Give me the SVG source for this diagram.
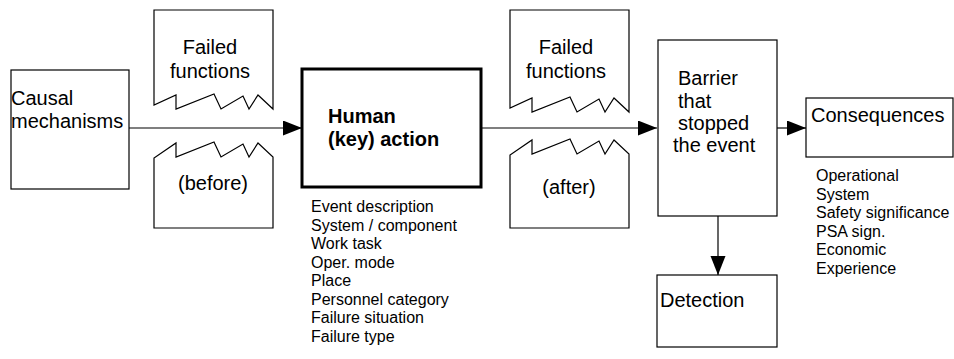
<svg xmlns="http://www.w3.org/2000/svg" width="954" height="359" viewBox="0 0 954 359">
<defs>
<style>
.box{fill:#fff;stroke:#000;stroke-width:1.2}
.thick{fill:#fff;stroke:#000;stroke-width:3}
.t{font-family:"Liberation Sans",Arial,sans-serif;font-size:20px;fill:#000}
.b{font-family:"Liberation Sans",Arial,sans-serif;font-size:20px;font-weight:bold;fill:#000}
.s{font-family:"Liberation Sans",Arial,sans-serif;font-size:16px;fill:#000}
.c{stroke:#000;stroke-width:1.2;fill:none}
</style>
<marker id="ah" markerWidth="20" markerHeight="16" refX="19" refY="7.5" orient="auto" markerUnits="userSpaceOnUse">
<path d="M0,0 L19,7.5 L0,15 Z" fill="#000"/>
</marker>
</defs>
<rect width="954" height="359" fill="#fff"/>
<g id="connectors">
<line class="c" x1="129" y1="128" x2="302" y2="128" marker-end="url(#ah)"/>
<line class="c" x1="481" y1="128" x2="657" y2="128" marker-end="url(#ah)"/>
<line class="c" x1="777" y1="128" x2="806" y2="128" marker-end="url(#ah)"/>
<line class="c" x1="718" y1="216" x2="718" y2="275" marker-end="url(#ah)"/>
</g>
<g id="causal">
<rect class="box" x="11" y="70" width="118" height="119"/>
<text class="t" x="11" y="105">Causal</text>
<text class="t" x="11" y="128">mechanisms</text>
</g>
<g id="failed-before-top">
<path class="box" d="M154,10 L273,10 L273,109 L258,95 L249,109 L243,96 L221,109 L214,94 L176,109 L176,95 L154,105 Z"/>
<text class="t" x="210" y="54" text-anchor="middle">Failed</text>
<text class="t" x="210" y="78" text-anchor="middle">functions</text>
</g>
<g id="failed-before-bottom">
<path class="box" d="M154,228 L154,158 L176,143 L176,157 L214,142 L221,157 L243,144 L249,157 L258,143 L273,157 L273,228 Z"/>
<text class="t" x="213" y="190" text-anchor="middle">(before)</text>
</g>
<g id="human">
<rect class="thick" x="302" y="69" width="179" height="118"/>
<text class="b" x="328" y="123">Human</text>
<text class="b" x="328" y="146">(key) action</text>
</g>
<g id="human-attributes">
<text class="s" x="311" y="212">Event description</text>
<text class="s" x="311" y="230.5">System / component</text>
<text class="s" x="311" y="249">Work task</text>
<text class="s" x="311" y="267.5">Oper. mode</text>
<text class="s" x="311" y="286">Place</text>
<text class="s" x="311" y="304.5">Personnel category</text>
<text class="s" x="311" y="323">Failure situation</text>
<text class="s" x="311" y="341.5">Failure type</text>
</g>
<g id="failed-after-top">
<path class="box" d="M510,10 L629,10 L629,112 L614,98 L605,112 L599,99 L577,112 L570,97 L532,112 L532,98 L510,108 Z"/>
<text class="t" x="566" y="54" text-anchor="middle">Failed</text>
<text class="t" x="566" y="78" text-anchor="middle">functions</text>
</g>
<g id="failed-after-bottom">
<path class="box" d="M510,228 L510,155 L532,140 L532,154 L570,139 L577,154 L599,141 L605,154 L614,140 L629,154 L629,228 Z"/>
<text class="t" x="569" y="194" text-anchor="middle">(after)</text>
</g>
<g id="barrier">
<rect class="box" x="658" y="40" width="119" height="176"/>
<text class="t" x="678" y="85">Barrier</text>
<text class="t" x="678" y="108">that</text>
<text class="t" x="678" y="130">stopped</text>
<text class="t" x="673" y="152">the event</text>
</g>
<g id="consequences">
<rect class="box" x="806" y="98" width="147" height="59"/>
<text class="t" x="811" y="122">Consequences</text>
</g>
<g id="consequence-attributes">
<text class="s" x="816" y="181">Operational</text>
<text class="s" x="816" y="199.5">System</text>
<text class="s" x="816" y="218">Safety significance</text>
<text class="s" x="816" y="236.5">PSA sign.</text>
<text class="s" x="816" y="255">Economic</text>
<text class="s" x="816" y="273.5">Experience</text>
</g>
<g id="detection">
<rect class="box" x="657" y="275" width="120" height="72"/>
<text class="t" x="660" y="307">Detection</text>
</g>
</svg>
